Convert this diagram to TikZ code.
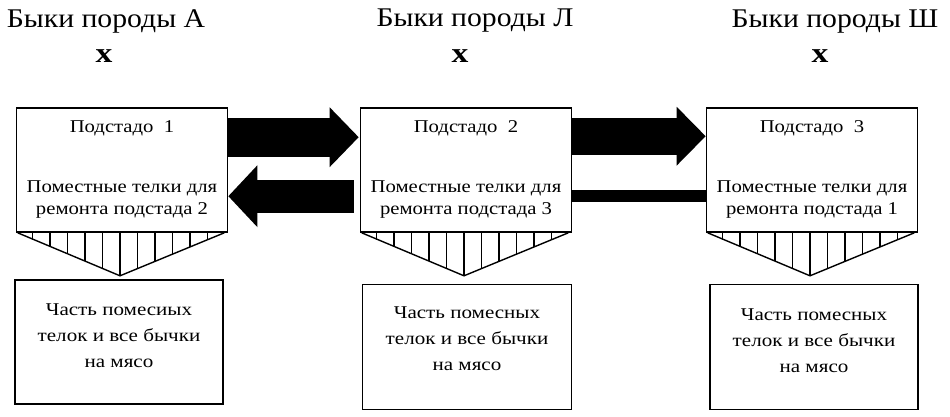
\documentclass[tikz,border=0pt]{standalone}
\usepackage{fontspec}
\setmainfont{Liberation Serif}
\usetikzlibrary{arrows.meta,calc}
\begin{document}
\begin{tikzpicture}[x=1pt,y=-1pt,
 box/.style={draw, line width=1.6pt, minimum width=211pt, minimum height=124pt, inner sep=0pt},
 outbox/.style={draw, line width=1.6pt, minimum width=208pt, minimum height=124pt, inner sep=0pt},
 title/.style={font=\fontsize{27}{30}\selectfont\addfontfeature{FakeStretch=1.1}, inner sep=0pt, anchor=base},
 crossx/.style={font=\bfseries\fontsize{28}{30}\selectfont\addfontfeature{FakeStretch=1.2}, inner sep=0pt, anchor=base},
 btext/.style={font=\fontsize{18}{20}\selectfont\addfontfeature{FakeStretch=1.15}, inner sep=0pt, anchor=base},
 otext/.style={font=\fontsize{18}{26}\selectfont\addfontfeature{FakeStretch=1.17}, align=center, inner sep=0pt},
 hatch/.style={line width=1.4pt},
]
\useasboundingbox (0,0) rectangle (950,416);

% titles
\node[title] (t1) at (106,27) {Быки породы А};
\node[title] (t2) at (475,26) {Быки породы Л};
\node[title] (t3) at (835,27) {Быки породы Ш};
\node[crossx] (x1) at (104,62) {х};
\node[crossx] (x2) at (460,62) {х};
\node[crossx] (x3) at (820,62) {х};

% upper boxes
\node[box] (b1) at (122,170) {};
\node[box] (b2) at (466,170) {};
\node[box] (b3) at (812,170) {};

\foreach \b/\n/\r in {b1/1/2, b2/2/3, b3/3/1}{
  \node[btext] (\b h) at ($(\b.north)+(0,25)$) {Подстадо\ \ \n};
  \node[btext] (\b p) at ($(\b.north)+(0,85)$) {Поместные телки для};
  \node[btext] (\b q) at ($(\b.north)+(0,107)$) {ремонта подстада \r};
}

% hatched triangles
\foreach \b in {b1,b2,b3}{
  \draw[hatch] ($(\b.south west)+(2,0)$) -- ($(\b.south)+(-2,43)$) -- ($(\b.south east)+(-4,0)$);
  \foreach \k in {-5,...,5}{
    \draw[hatch] ($(\b.south)+(\k*17.5-2,0)$) -- ++(0,{43*(1-abs(\k)*17.5/105)});
  }
}

% lower boxes
\node[outbox] (o1) at (119,342) {};
\node[outbox, minimum width=209pt, minimum height=125pt] (o2) at (467,347) {};
\node[outbox, minimum height=125pt] (o3) at (814,347) {};
\node[otext] (o1t) at ($(o1.center)+(0,-6)$) {Часть помесиых\\телок и все бычки\\на мясо};
\node[otext] (o2t) at ($(o2.center)+(0,-8)$) {Часть помесных\\телок и все бычки\\на мясо};
\node[otext] (o3t) at ($(o3.center)+(0,-6)$) {Часть помесных\\телок и все бычки\\на мясо};

% arrows
\draw[line width=39pt, -{Triangle[length=29pt,width=58pt]}]
  ($(b1.north east)+(0,30)$) -- ($(b2.north west)+(-1,30)$);
\draw[line width=33pt, -{Triangle[length=29pt,width=60pt]}]
  ($(b2.north west)+(-6,89)$) -- ($(b1.north east)+(0,89)$);
\draw[line width=37pt, -{Triangle[length=29pt,width=57pt]}]
  ($(b2.north east)+(0,29)$) -- ($(b3.north west)+(0,29)$);
\draw[line width=12pt] (b3.west |- 0,196) -- (b2.east |- 0,196);
\end{tikzpicture}
\end{document}
